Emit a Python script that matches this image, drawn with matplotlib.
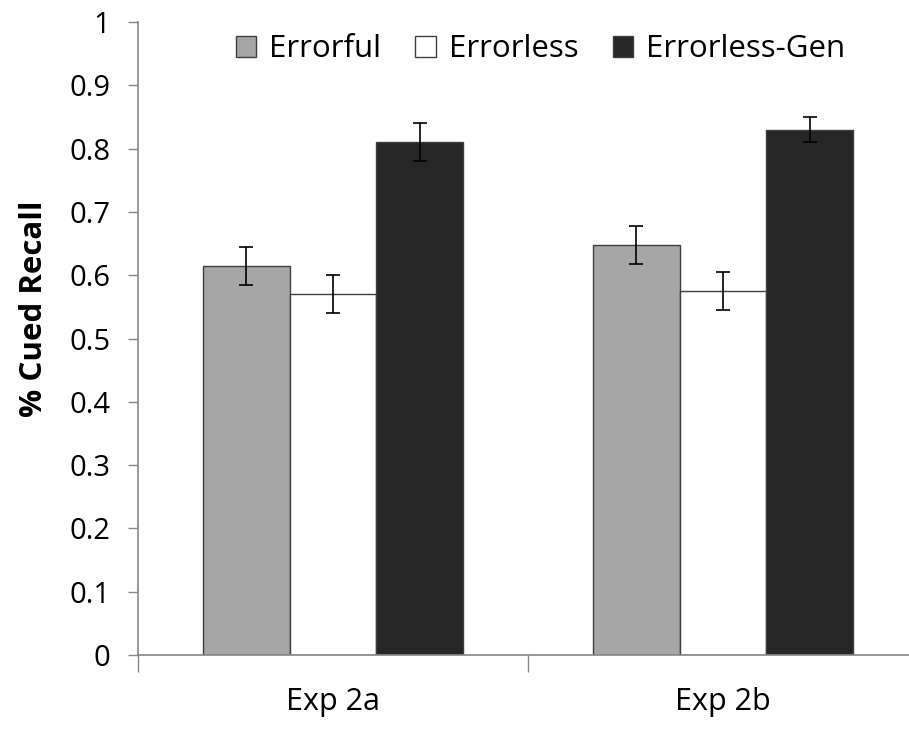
import matplotlib
matplotlib.use("Agg")
import matplotlib.pyplot as plt
import numpy as np
from matplotlib.patches import Patch

categories = ["Exp 2a", "Exp 2b"]
series = ["Errorful", "Errorless", "Errorless-Gen"]
errorful = [0.615, 0.648]
errorless = [0.571, 0.575]
errorless_gen = [0.810, 0.830]
err_errorful = [0.030, 0.030]
err_errorless = [0.030, 0.030]
err_errorless_gen = [0.030, 0.020]
yticks = [0, 0.1, 0.2, 0.3, 0.4, 0.5, 0.6, 0.7, 0.8, 0.9, 1]
ytick_labels = ["0", "0.1", "0.2", "0.3", "0.4", "0.5", "0.6", "0.7", "0.8", "0.9", "1"]

colors = ["#A6A6A6", "#FFFFFF", "#262626"]
edge = "#3F3F3F"
axis_col = "#868686"

plt.rcParams['font.family'] = ['Open Sans', 'DejaVu Sans']

fig = plt.figure(figsize=(9.09, 7.29), dpi=100)
ax = fig.add_axes([138/909, 74/729, 780/909, 633/729])

x = np.arange(len(categories))
w = 0.222
vals = [errorful, errorless, errorless_gen]
errs = [err_errorful, err_errorless, err_errorless_gen]
for i, (v, e, c) in enumerate(zip(vals, errs, colors)):
    ax.bar(x + (i - 1) * w, v, w, color=c, edgecolor=edge, linewidth=1.0, zorder=2)
    ax.errorbar(x + (i - 1) * w, v, yerr=e, fmt='none', ecolor='black',
                elinewidth=1.2, capsize=4.8, capthick=1.2, zorder=3)

ax.set_xlim(-0.5, 1.5)
ax.set_ylim(0, 1)
ax.set_yticks(yticks)
ax.set_yticklabels(ytick_labels, fontsize=21)
ax.tick_params(axis='y', direction='out', length=7, width=1, color=axis_col, pad=13)

ax.set_xticks([-0.5, 0.5, 1.5])
ax.set_xticklabels([])
ax.tick_params(axis='x', which='major', direction='out', length=12, width=1, color=axis_col)
ax.set_xticks(x, minor=True)
ax.set_xticklabels(categories, minor=True, fontsize=22)
ax.tick_params(axis='x', which='minor', length=0, pad=23)

for s in ['top', 'right']:
    ax.spines[s].set_visible(False)
for s in ['left', 'bottom']:
    ax.spines[s].set_color(axis_col)
    ax.spines[s].set_linewidth(1.2)

ax.set_ylabel("% Cued Recall", fontsize=22.5, fontweight='bold')
ax.yaxis.set_label_coords(-0.114, 0.547)

handles = [Patch(facecolor=c, edgecolor=edge, linewidth=1.0) for c in colors]
ax.legend(handles, series, loc='center', bbox_to_anchor=(0.516, 0.9566), ncol=3,
          frameon=False, fontsize=22.5, handlelength=0.65, handleheight=0.65,
          handletextpad=0.42, columnspacing=1.1, borderaxespad=0, borderpad=0)

fig.savefig("out.png", dpi=100)
